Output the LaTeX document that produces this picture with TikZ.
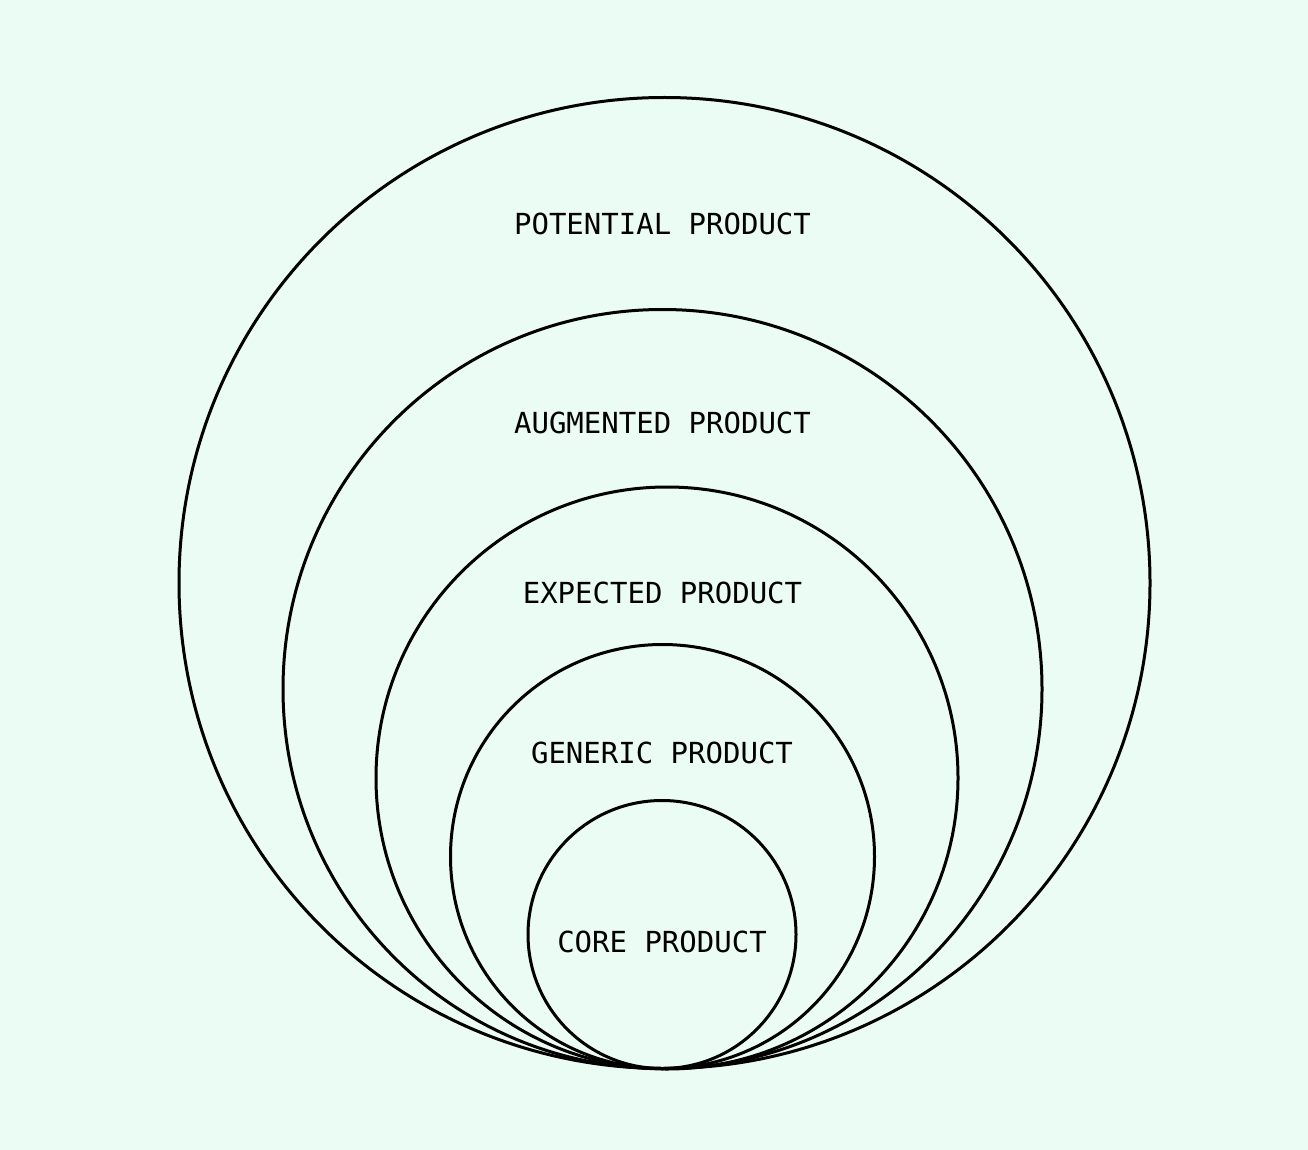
\documentclass[tikz,border=0pt]{standalone}
\usepackage{fontspec}
\setmonofont{DejaVu Sans Mono}
\definecolor{bgmint}{HTML}{EBFCF4}
\tikzset{
  ring/.style={draw=black, line width=3pt},
  lbl/.style={font=\ttfamily\fontsize{29}{34}\selectfont, text=black, inner sep=0pt, anchor=center}
}
\begin{document}
\begin{tikzpicture}[x=1pt,y=-1pt]
\fill[bgmint] (0,0) rectangle (1308,1150);
\useasboundingbox (0,0) rectangle (1308,1150);
\draw[ring] (664.5,583) circle (485.5);
\draw[ring] (662.5,689) circle (379.5);
\draw[ring] (667,778) circle (291);
\draw[ring] (662.5,856.5) circle (212);
\draw[ring] (662,934.5) circle (134);
\node[lbl] (potential) at (662.5,224) {POTENTIAL PRODUCT};
\node[lbl] (augmented) at (662.5,423) {AUGMENTED PRODUCT};
\node[lbl] (expected) at (662.5,593) {EXPECTED PRODUCT};
\node[lbl] (generic) at (662,753) {GENERIC PRODUCT};
\node[lbl] (core) at (662,942) {CORE PRODUCT};
\end{tikzpicture}
\end{document}
